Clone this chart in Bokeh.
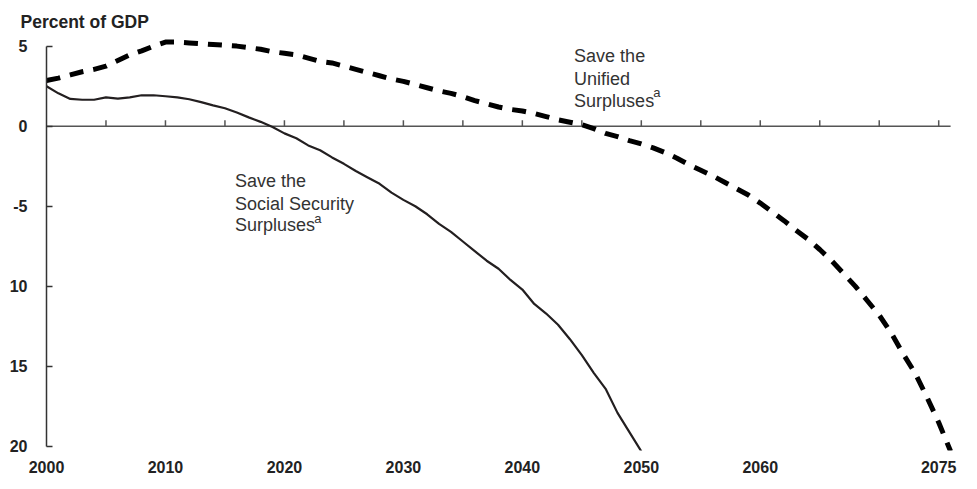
import math
from bokeh.plotting import figure
from bokeh.models import Range1d, LinearAxis, FixedTicker, Label
from bokeh.embed import file_html
from bokeh.resources import INLINE

# ---------------- data ----------------
years_ss = list(range(2000, 2051))
save_ss = [2.5, 2.05, 1.7, 1.65, 1.65, 1.8, 1.72, 1.8, 1.93, 1.93,
           1.87, 1.8, 1.68, 1.5, 1.3, 1.12, 0.85, 0.55, 0.27, -0.05,
           -0.45, -0.75, -1.2, -1.5, -1.95, -2.35, -2.8, -3.2, -3.6, -4.15,
           -4.6, -5.0, -5.5, -6.1, -6.6, -7.2, -7.8, -8.4, -8.9, -9.6,
           -10.2, -11.1, -11.7, -12.4, -13.3, -14.3, -15.4, -16.4, -17.9, -19.1,
           -20.3]

years_uni = list(range(2000, 2077))
save_unified = [2.85, 3.0, 3.2, 3.4, 3.55, 3.75, 4.1, 4.45, 4.7, 5.0,
                5.25, 5.25, 5.2, 5.15, 5.1, 5.05, 5.0, 4.9, 4.8, 4.65,
                4.55, 4.45, 4.25, 4.05, 3.95, 3.75, 3.55, 3.35, 3.15, 2.95,
                2.8, 2.6, 2.4, 2.2, 2.05, 1.85, 1.6, 1.4, 1.2, 1.05,
                0.95, 0.8, 0.6, 0.4, 0.25, 0.1, -0.15, -0.45, -0.65, -0.9,
                -1.1, -1.35, -1.65, -2.0, -2.4, -2.75, -3.1, -3.5, -3.9, -4.3,
                -4.8, -5.35, -5.9, -6.5, -7.05, -7.7, -8.4, -9.2, -10.0, -10.9,
                -11.8, -12.9, -14.2, -15.4, -16.9, -18.5, -20.3]

y_ticks = [5, 0, -5, -10, -15, -20]
y_tick_labels = ["5", "0", "-5", "10", "15", "20"]
x_label_years = [2000, 2010, 2020, 2030, 2040, 2050, 2060, 2075]
x_label_texts = ["2000", "2010", "2020", "2030", "2040", "2050", "2060", "2075"]
zero_line_ticks = list(range(2005, 2080, 5))
zero_line_extent = [2000, 2076]

title_text = "Percent of GDP"
ss_label_lines = ["Save the", "Social Security", "Surpluses"]
uni_label_lines = ["Save the", "Unified", "Surpluses"]
superscript = "a"

FONT = "Liberation Sans"
AXIS_GREY = "#555555"

p = figure(width=965, height=481, output_backend="svg", toolbar_location=None,
           x_range=Range1d(2000, 2077), y_range=Range1d(-20.25, 5.6),
           x_axis_type=None, y_axis_type=None,
           min_border_left=46, min_border_right=3,
           min_border_top=36, min_border_bottom=31)
p.outline_line_color = None
p.background_fill_color = "white"
p.border_fill_color = "white"

# title
p.title.text = title_text
p.title.align = "left"
p.title.offset = -26
p.title.standoff = 10
p.title.text_font = FONT
p.title.text_font_style = "bold"
p.title.text_font_size = "17.5px"
p.title.text_color = "#222222"

# y axis
yax = LinearAxis(ticker=FixedTicker(ticks=y_ticks), bounds=(-20, 5),
                 major_label_overrides={t: l for t, l in zip(y_ticks, y_tick_labels)},
                 major_tick_in=6, major_tick_out=0, minor_tick_line_color=None,
                 axis_line_color="#333333", axis_line_width=1.5,
                 major_tick_line_color="#333333", major_tick_line_width=1.5,
                 major_label_text_font=FONT, major_label_text_font_style="bold",
                 major_label_text_font_size="16px", major_label_text_color="#222222",
                 major_label_standoff=19)
p.add_layout(yax, "left")

# bottom labels
xax = LinearAxis(ticker=FixedTicker(ticks=x_label_years),
                 major_label_overrides={t: l for t, l in zip(x_label_years, x_label_texts)},
                 axis_line_color=None, major_tick_line_color=None, minor_tick_line_color=None,
                 major_tick_in=0, major_tick_out=0, major_label_standoff=10,
                 major_label_text_font=FONT, major_label_text_font_style="bold",
                 major_label_text_font_size="16px", major_label_text_color="#222222")
p.add_layout(xax, "below")

# zero line with upward ticks
p.line(zero_line_extent, [0, 0], line_color=AXIS_GREY, line_width=1.5)
p.ray(x=zero_line_ticks, y=[0] * len(zero_line_ticks), length=6, length_units="screen",
      angle=math.pi / 2, line_color=AXIS_GREY, line_width=1.5)

# series
p.line(years_ss, save_ss, line_color="#231f20", line_width=2.2)
p.line(years_uni, save_unified, line_color="black", line_width=5, line_dash="14 10")

# annotations
def add_block(x0, ys, lines, sup_x, sup_y):
    for yy, t in zip(ys, lines):
        p.add_layout(Label(x=x0, y=yy, text=t, text_font=FONT, text_font_size="18px",
                           text_color="#333333", text_baseline="alphabetic", text_align="left"))
    p.add_layout(Label(x=sup_x, y=sup_y, text=superscript, text_font=FONT,
                       text_font_size="13px", text_color="#333333",
                       text_baseline="alphabetic", text_align="left"))

add_block(2015.84, [-3.42, -4.83, -6.19], ss_label_lines, 2022.5, -5.75)
add_block(2044.35, [4.39, 2.92, 1.58], uni_label_lines, 2051.0, 2.08)

open("out.html", "w").write(file_html(p, INLINE))
